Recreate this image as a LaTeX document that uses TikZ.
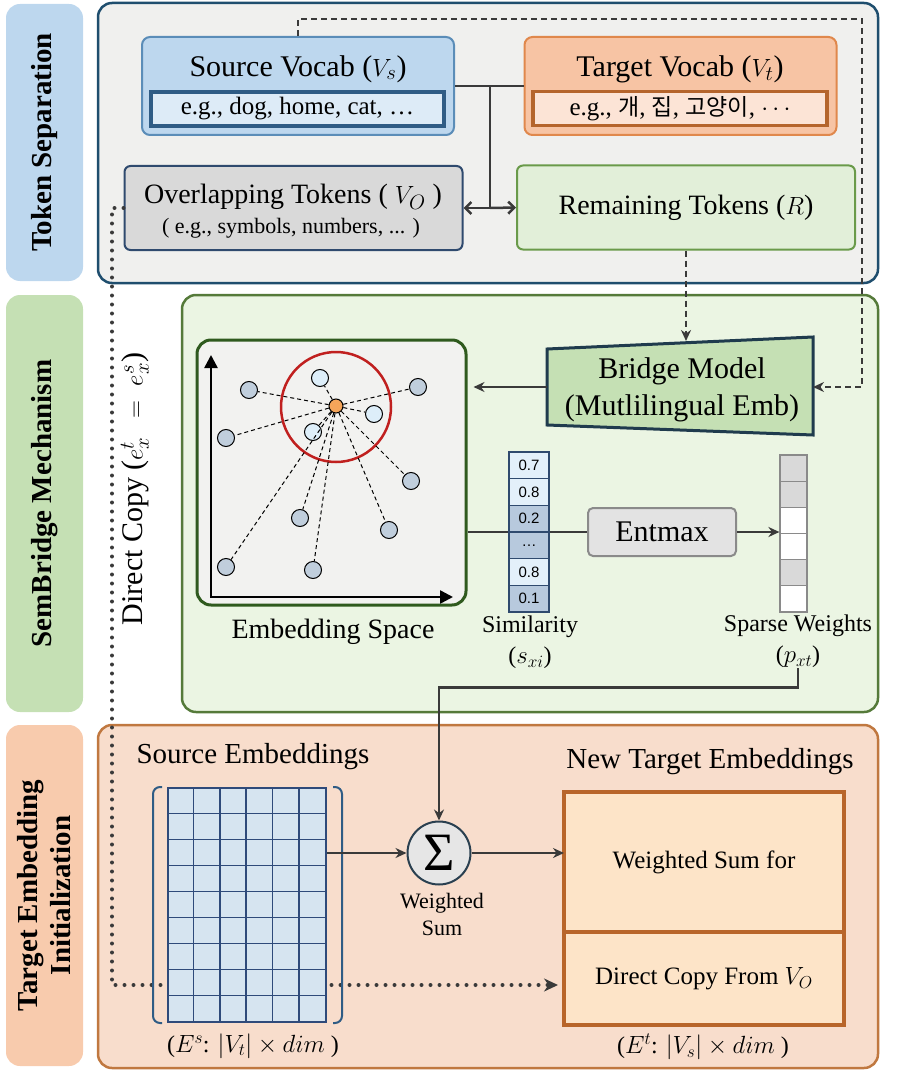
\documentclass[tikz,border=0pt]{standalone}
\usepackage{xcolor}
\usepackage{fontspec}
\setmainfont{Liberation Serif}
\newfontfamily\krfont[Scale=0.92]{Noto Sans CJK KR}
\newfontfamily\numfont{Liberation Sans}
\usetikzlibrary{shapes.geometric, arrows.meta, positioning}
\definecolor{tsblue}{HTML}{BDD7EE}
\definecolor{tsborder}{HTML}{1F4E6E}
\definecolor{panelgray}{HTML}{F0F0EE}
\definecolor{sbgreen}{HTML}{C5E0B4}
\definecolor{sbpanel}{HTML}{EBF5E3}
\definecolor{sbborder}{HTML}{557A3A}
\definecolor{teorange}{HTML}{F8CBAD}
\definecolor{tepanel}{HTML}{F8DDCC}
\definecolor{teborder}{HTML}{C07840}
\definecolor{srcborder}{HTML}{5B8DB8}
\definecolor{srcinner}{HTML}{DDEBF7}
\definecolor{srcinnerb}{HTML}{2F5C85}
\definecolor{tgtfill}{HTML}{F7C4A4}
\definecolor{tgtborder}{HTML}{E0884C}
\definecolor{tgtinner}{HTML}{FCE4D6}
\definecolor{tgtinnerb}{HTML}{B5652C}
\definecolor{ovfill}{HTML}{D9D9D9}
\definecolor{ovborder}{HTML}{2F4A6E}
\definecolor{remfill}{HTML}{E2EFD9}
\definecolor{remborder}{HTML}{6A9A4A}
\definecolor{embfill}{HTML}{F2F2F0}
\definecolor{embborder}{HTML}{2F5A1E}
\definecolor{bridgeborder}{HTML}{1F3B4D}
\definecolor{ptlight}{HTML}{DDEEF9}
\definecolor{ptgray}{HTML}{C0CEDC}
\definecolor{ptorange}{HTML}{F5A55A}
\definecolor{ringred}{HTML}{C0201F}
\definecolor{simlight}{HTML}{E3F0FA}
\definecolor{simdark}{HTML}{B7C9DD}
\definecolor{wgray}{HTML}{D9D9D9}
\definecolor{cellgray}{HTML}{8A8A8A}
\definecolor{boxgray}{HTML}{E3E3E3}
\definecolor{matfill}{HTML}{D6E4F0}
\definecolor{matline}{HTML}{2F4A7A}
\definecolor{sumfill}{HTML}{E6E6E6}
\definecolor{sumborder}{HTML}{2A4050}
\definecolor{newfill}{HTML}{FDE4C8}
\definecolor{newborder}{HTML}{B8652A}
\definecolor{linkgray}{HTML}{3A3A3A}
\tikzstyle{sidelabel} = [rectangle, rounded corners=14pt, rotate=90, align=center, inner sep=0pt, font=\fontsize{29}{33}\selectfont\bfseries]
\tikzstyle{panel} = [rectangle, rounded corners=14pt, line width=2.5pt, inner sep=0pt]
\tikzstyle{vocab} = [rectangle, rounded corners=8pt, line width=2pt, minimum width=312pt, minimum height=98pt]
\tikzstyle{vocabtitle} = [inner sep=0pt, font=\fontsize{30}{34}\selectfont]
\tikzstyle{example} = [rectangle, line width=3.5pt, minimum height=34pt, inner sep=0pt, font=\fontsize{25}{29}\selectfont]
\tikzstyle{tokens} = [rectangle, rounded corners=6pt, line width=2pt, minimum width=338pt, minimum height=84pt, font=\fontsize{28}{33}\selectfont]
\tikzstyle{bridgebox} = [fill=sbgreen, draw=bridgeborder, line width=3pt]
\tikzstyle{bridgetext} = [align=center, inner sep=0pt, font=\fontsize{30}{37}\selectfont]
\tikzstyle{embbox} = [rectangle, rounded corners=14pt, draw=embborder, fill=embfill, line width=3pt, minimum width=269pt, minimum height=265pt]
\tikzstyle{axis} = [line width=2.5pt, draw=black, {Triangle[length=13pt,width=13pt]}-{Triangle[length=13pt,width=13pt]}]
\tikzstyle{dotnode} = [circle, draw=black, line width=1pt, minimum size=17pt, inner sep=0pt]
\tikzstyle{simlink} = [line width=1pt, dash pattern=on 4pt off 3pt]
\tikzstyle{simcell} = [rectangle, draw=ovborder, line width=1.2pt, minimum width=40pt, minimum height=26.67pt, inner sep=0pt, font=\numfont\fontsize{15}{18}\selectfont]
\tikzstyle{wcell} = [rectangle, draw=cellgray, line width=1.2pt, minimum width=27pt, minimum height=26.17pt, inner sep=0pt]
\tikzstyle{entmaxbox} = [rectangle, rounded corners=5pt, draw=cellgray, fill=boxgray, line width=2pt, minimum width=148pt, minimum height=48pt, font=\fontsize{30}{34}\selectfont]
\tikzstyle{captext} = [align=center, inner sep=0pt, font=\fontsize{24}{31}\selectfont]
\tikzstyle{heading} = [inner sep=0pt, font=\fontsize{29}{34}\selectfont]
\tikzstyle{embgrid} = [rectangle, fill=matfill, draw=matline, line width=1.5pt, inner sep=0pt, minimum width=158pt, minimum height=234pt]
\tikzstyle{gridline} = [draw=matline, line width=1.5pt]
\tikzstyle{bracket} = [draw=srcinnerb, line width=2pt, rounded corners=7pt]
\tikzstyle{sumnode} = [circle, fill=sumfill, draw=sumborder, line width=2pt, minimum size=63pt, inner sep=0pt]
\tikzstyle{newbox} = [rectangle, fill=newfill, draw=newborder, line width=3.5pt, minimum width=280pt, outer sep=0pt, font=\fontsize{25}{30}\selectfont]
\tikzstyle{link} = [line width=2.5pt, draw=linkgray]
\tikzstyle{arrow} = [line width=2.5pt, draw=linkgray, -{Stealth[length=11pt,width=10pt]}]
\tikzstyle{splitarrow} = [line width=2.5pt, draw=linkgray, -{Straight Barb[length=6pt,width=12pt]}]
\tikzstyle{dasharrow} = [line width=2pt, draw=linkgray, dash pattern=on 6pt off 4pt, -{Stealth[length=11pt,width=10pt]}]
\tikzstyle{dotarrow} = [line width=4pt, draw=linkgray, line cap=round, dash pattern=on 0pt off 9pt, -{Stealth[length=14pt,width=13pt]}]
\begin{document}
\begin{tikzpicture}[x=1pt, y=-1pt, line width=2pt, node distance=0pt]
\useasboundingbox (0,0) rectangle (897,1078);
\node (ts_panel) [panel, draw=tsborder, fill=panelgray, minimum width=780pt, minimum height=280pt] at (488,143) {};
\node (sb_panel) [panel, draw=sbborder, fill=sbpanel, minimum width=696pt, minimum height=417pt] at (530,503.5) {};
\node (te_panel) [panel, draw=teborder, fill=tepanel, minimum width=780pt, minimum height=343pt] at (488,896.5) {};

\node (ts_side) [sidelabel, fill=tsblue, minimum width=277pt, minimum height=77pt] at (44.5,142.5) {Token Separation};
\node (sb_side) [sidelabel, fill=sbgreen, minimum width=417pt, minimum height=77pt] at (44.5,503.5) {SemBridge Mechanism};
\node (te_side) [sidelabel, fill=teorange, minimum width=341pt, minimum height=77pt] at (44.5,895.5) {Target Embedding\\Initialization};

\node (src_vocab) [vocab, fill=tsblue, draw=srcborder] at (298,86) {};
\node (src_title) [vocabtitle] at (298,69) {Source Vocab ($V_s$)};
\node (src_ex) [example, fill=srcinner, draw=srcinnerb, minimum width=293pt] at (297.5,109) {e.g., dog, home, cat, \ldots};
\node (tgt_vocab) [vocab, fill=tgtfill, draw=tgtborder] at (680.5,86) {};
\node (tgt_title) [vocabtitle] at (680,69) {Target Vocab ($V_t$)};
\node (tgt_ex) [example, fill=tgtinner, draw=tgtinnerb, minimum width=294pt] at (680,108.5) {e.g., {\krfont 개}, {\krfont 집}, {\krfont 고양이}, $\cdots$};
\node (overlap_tok) [tokens, fill=ovfill, draw=ovborder] at (293.5,208) {};
\node (ov_title) [vocabtitle, font=\fontsize{28}{33}\selectfont] at (293,197) {Overlapping Tokens ( $V_O$ )};
\node (ov_sub) [inner sep=0pt, font=\fontsize{22}{25}\selectfont] at (291,228) {( e.g., symbols, numbers, ... )};
\node (remain_tok) [tokens, fill=remfill, draw=remborder] at (686,207.5) {Remaining Tokens ($R$)};

\coordinate (split_top) at (490,86);
\coordinate (split_bot) at (490,208);
\draw[link] (src_vocab.east) -- (tgt_vocab.west);
\draw[link] (split_top) -- (split_bot);
\draw[splitarrow] (split_bot) -- (overlap_tok.east);
\draw[splitarrow] (split_bot) -- (remain_tok.west);

\coordinate (br_tl) at (547,349);
\coordinate (br_tr) at (813,337);
\coordinate (br_br) at (813,435);
\coordinate (br_bl) at (547,425);
\coordinate (br_left) at (547,387);
\coordinate (br_right) at (813,387);
\coordinate (br_top) at (686,341);
\draw[bridgebox] (br_tl) -- (br_tr) -- (br_br) -- (br_bl) -- cycle;
\node (bridge) [bridgetext] at (682,390) {Bridge Model\\(Mutlilingual Emb)};

\coordinate (dash_up) at (298,19);
\coordinate (dash_right) at (862,19);
\coordinate (dash_down) at (862,387);
\draw[dasharrow] (src_vocab.north) -- (dash_up) -- (dash_right) -- (dash_down) -- (br_right);
\draw[dasharrow] (remain_tok.south) -- (br_top);

\node (emb_space) [embbox] at (331.5,472.5) {};
\draw[arrow, shorten >=6pt] (br_left) -- (emb_space.east |- br_left);
\coordinate (ax_o) at (211,597);
\coordinate (ax_y) at (211,355);
\coordinate (ax_x) at (453,597);
\draw[axis] (ax_y) -- (ax_o) -- (ax_x);
\node (ring) [circle, draw=ringred, line width=2.5pt, minimum size=110pt] at (336,407) {};
\node (ctr) [dotnode, fill=ptorange, minimum size=14pt] at (336,406) {};
\foreach \n/\x/\y/\col in {a/320/378/ptlight, b/374/414/ptlight, c/313/432/ptlight, d/249/390/ptgray, e/418/387/ptgray, f/226/438/ptgray, g/411/481/ptgray, h/300/518/ptgray, i/389/530/ptgray, j/226/567/ptgray, k/313/570/ptgray}
{
\node (pt_\n) [dotnode, fill=\col] at (\x,\y) {};
\draw[simlink] (ctr) -- (pt_\n);
}
\node (emb_lab) [heading, font=\fontsize{28}{33}\selectfont] at (333,632) {Embedding Space};

\node (entmax) [entmaxbox] at (662,532) {Entmax};
\draw[link] (emb_space.east |- entmax.west) -- (entmax.west);
\foreach \i/\val/\col in {1/0.7/simlight, 2/0.8/simlight, 3/0.2/simdark, 4/\ldots/simdark, 5/0.8/simlight, 6/0.1/simdark}
\node (sim_\i) [simcell, fill=\col] at (529,{438.67+26.67*\i}) {\val};
\foreach \i/\col in {1/wgray, 2/wgray, 3/white, 4/white, 5/wgray, 6/white}
\node (sp_\i) [wcell, fill=\col] at (793.5,{441.9+26.17*\i}) {};
\draw[arrow] (entmax.east) -- (entmax.east -| sp_1.west);
\node (sim_lab) [captext] at (530,642) {Similarity\\($s_{xi}$)};
\node (sp_lab) [captext] at (798,641) {Sparse Weights\\($p_{xt}$)};

\node (copy_lab) [rotate=90, inner sep=0pt, font=\fontsize{30}{35}\selectfont] at (135,489) {Direct Copy ($e_x^t\ \,=\ e_x^s$)};
\node (new_ws) [newbox, minimum height=140pt] at (704,862) {Weighted Sum for};
\node (new_dc) [newbox, minimum height=93pt, below=of new_ws] {Direct Copy From $V_O$};
\coordinate (dot_top) at (112,208);
\coordinate (dot_bot) at (112,985);
\draw[dotarrow, shorten >=6pt] (overlap_tok.west) -- (dot_top) -- (dot_bot) -- (new_dc.west |- dot_bot);

\node (src_emb_lab) [heading] at (253,757) {Source Embeddings};
\node (src_mat) [embgrid] at (247,905) {};
\foreach \i in {1,...,5}
\draw[gridline] ([xshift=\i*26.33pt]src_mat.north west) -- ([xshift=\i*26.33pt]src_mat.south west);
\foreach \j in {1,...,8}
\draw[gridline] ([yshift=-\j*26pt]src_mat.north west) -- ([yshift=-\j*26pt]src_mat.north east);
\draw[bracket] (162,787) -- (153,787) -- (153,1023) -- (162,1023);
\draw[bracket] (333,787) -- (342,787) -- (342,1023) -- (333,1023);
\node (src_dim) [captext] at (253,1046) {($E^{s}$: $|V_t| \times dim$ )};

\node (sigma) [sumnode] at (439,853) {\fontsize{54}{54}\selectfont Σ};
\node (sigma_lab) [captext, font=\fontsize{22}{27}\selectfont] at (442,914) {Weighted\\Sum};
\draw[arrow] (sp_lab.south) -- ++(0,19) -| (sigma.north);
\draw[arrow] (src_mat.east |- sigma.west) -- (sigma.west);
\draw[arrow] (sigma.east) -- (new_ws.west |- sigma.east);
\node (new_lab) [heading] at (710,762) {New Target Embeddings};
\node (new_dim) [captext] at (703,1047) {($E^{t}$: $|V_s| \times dim$ )};
\end{tikzpicture}
\end{document}
